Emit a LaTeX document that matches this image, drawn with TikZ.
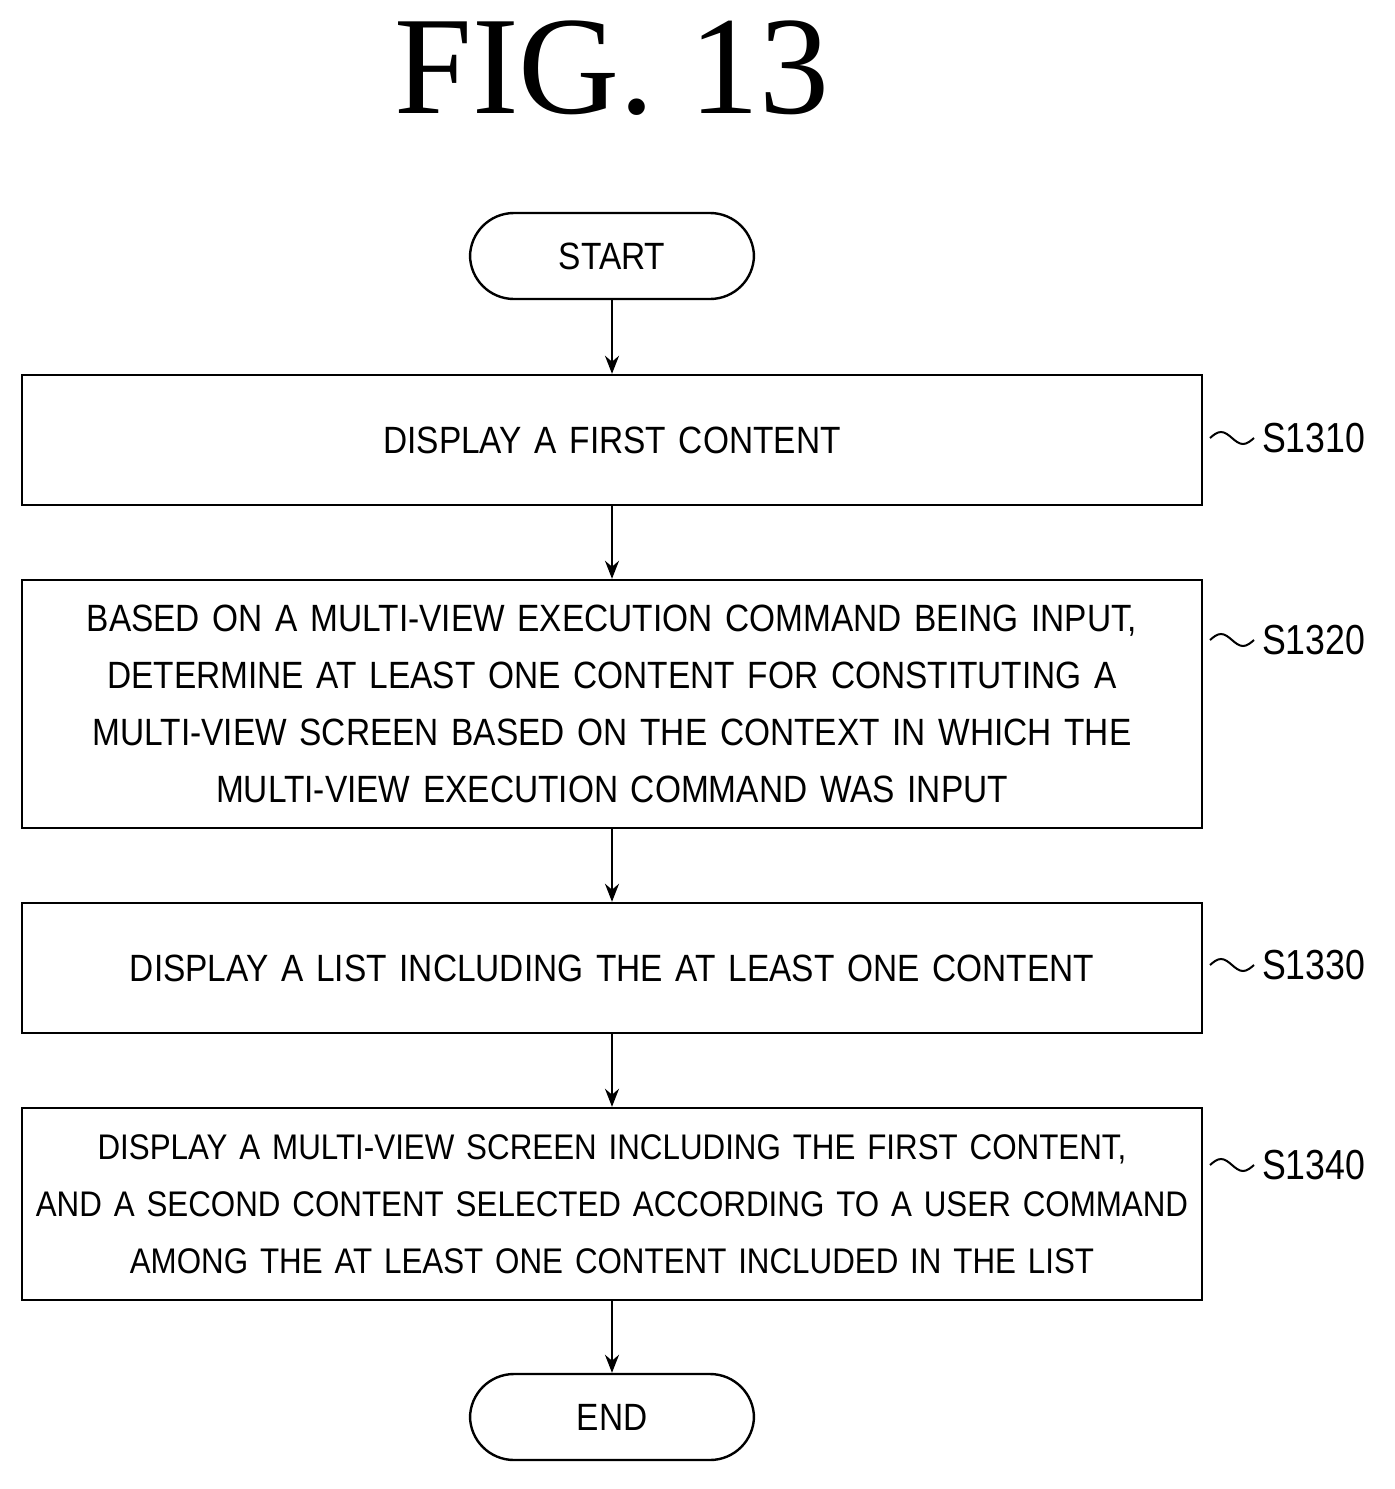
\documentclass[tikz,border=0pt]{standalone}
\usepackage{fontspec}
\setmainfont{Liberation Sans}[FakeStretch=0.88]
\newfontfamily\titlefont{Liberation Serif}
\newfontfamily\labfont{Liberation Sans}[FakeStretch=0.85]
\usetikzlibrary{arrows.meta,calc}
\begin{document}
\begin{tikzpicture}[x=0.5pt,y=-0.5pt,
  box/.style={draw,line width=1.2pt,minimum width=590pt,text width=590pt,align=center,font=\fontsize{19}{28.5}\selectfont,inner sep=0pt},
  term/.style={draw,line width=1.2pt,rounded corners=22pt,minimum width=142pt,minimum height=43pt,font=\fontsize{19}{23}\selectfont},
  arr/.style={-{Stealth[length=9pt,width=7pt]},line width=1.1pt},
  lab/.style={font=\labfont\fontsize{21}{25}\selectfont,anchor=west},
  wave/.style={line width=1pt}]
\useasboundingbox (0,0) rectangle (1394,1489);
\node[font=\titlefont\fontsize{70}{78}\selectfont] (t) at (612,68) {FIG.\ 13};
\node[term] (st) at (612,256) {START};
\node[box,minimum height=65pt] (b1) at (612,440) {DISPLAY A FIRST CONTENT};
\node[box,minimum height=124pt] (b2) at (612,704) {BASED ON A MULTI-VIEW EXECUTION COMMAND BEING INPUT,\\DETERMINE AT LEAST ONE CONTENT FOR CONSTITUTING A\\MULTI-VIEW SCREEN BASED ON THE CONTEXT IN WHICH THE\\MULTI-VIEW EXECUTION COMMAND WAS INPUT};
\node[box,minimum height=65pt] (b3) at (612,968) {DISPLAY A LIST INCLUDING THE AT LEAST ONE CONTENT};
\node[box,minimum height=96pt,font=\fontsize{17.8}{28.5}\selectfont] (b4) at (612,1204) {DISPLAY A MULTI-VIEW SCREEN INCLUDING THE FIRST CONTENT,\\AND A SECOND CONTENT SELECTED ACCORDING TO A USER COMMAND\\AMONG THE AT LEAST ONE CONTENT INCLUDED IN THE LIST};
\node[term] (en) at (612,1417) {END};
\draw[arr] (st) -- (b1);
\draw[arr] (b1) -- (b2);
\draw[arr] (b2) -- (b3);
\draw[arr] (b3) -- (b4);
\draw[arr] (b4) -- (en);
\node[lab] (l1) at (1255,438) {S1310};
\node[lab] (l2) at (1255,640) {S1320};
\node[lab] (l3) at (1255,965) {S1330};
\node[lab] (l4) at (1255,1165) {S1340};
\foreach \l in {l1,l2,l3,l4}{
  \draw[wave] ($(\l.west)+(-45,0)$) sin ++(11,-6) cos ++(11,6) sin ++(11,6) cos ++(11,-6);
}
\end{tikzpicture}
\end{document}
